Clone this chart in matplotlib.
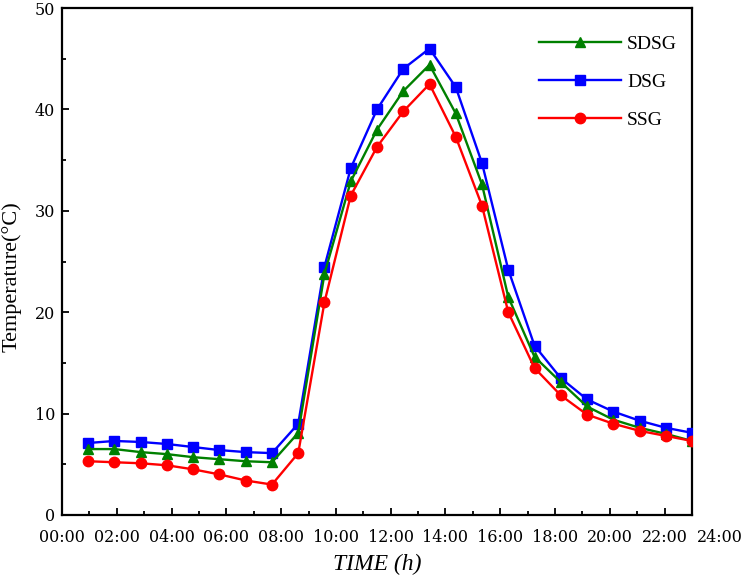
import numpy as np
import matplotlib
matplotlib.use("Agg")
import matplotlib.pyplot as plt
from matplotlib.ticker import MultipleLocator, FixedLocator
import matplotlib.transforms as mtransforms

# sample index (24 hourly samples)
sample = np.arange(1, 25)
sdsg = [6.5, 6.5, 6.2, 6.0, 5.7, 5.5, 5.3, 5.2, 8.1, 23.8, 32.9, 38.0, 41.8, 44.4,
        39.6, 32.6, 21.5, 15.6, 13.1, 10.7, 9.4, 8.6, 8.0, 7.3]
dsg = [7.1, 7.3, 7.2, 7.0, 6.7, 6.4, 6.2, 6.1, 9.0, 24.5, 34.2, 40.0, 44.0, 46.0,
       42.2, 34.7, 24.2, 16.7, 13.5, 11.4, 10.2, 9.3, 8.6, 8.1]
ssg = [5.3, 5.2, 5.1, 4.9, 4.5, 4.0, 3.4, 3.0, 6.1, 21.0, 31.5, 36.3, 39.8, 42.5,
       37.3, 30.5, 20.0, 14.5, 11.8, 9.9, 9.0, 8.3, 7.8, 7.3]
hour_labels = ["00:00", "02:00", "04:00", "06:00", "08:00", "10:00", "12:00",
               "14:00", "16:00", "18:00", "20:00", "22:00", "24:00"]
hours = np.arange(0, 25, 2)

fig = plt.figure(figsize=(7.43, 5.86), dpi=100)
ax = fig.add_axes([0.0834, 0.1212, 0.9314 - 0.0834, 0.9863 - 0.1212])

lw = 1.7
ax.plot(sample, dsg, color="#0000FF", marker="s", markersize=6.5, lw=lw, label="DSG", zorder=3)
ax.plot(sample, sdsg, color="#008000", marker="^", markersize=7, lw=lw, label="SDSG", zorder=4)
ax.plot(sample, ssg, color="#FF0000", marker="o", markersize=7.5, lw=lw, label="SSG", zorder=5)

scale = 24 / 23
ax.set_xlim(0, 24)
ax.set_ylim(0, 50)
pos = hours * scale
ax.xaxis.set_major_locator(FixedLocator(pos[:-1]))
ax.set_xticklabels(hour_labels[:-1])
ax.xaxis.set_minor_locator(FixedLocator((hours[:-1] + 1) * scale))
ax.yaxis.set_major_locator(MultipleLocator(10))
ax.yaxis.set_minor_locator(MultipleLocator(5))

fs_tick = 11.5
for lab in ax.get_xticklabels() + ax.get_yticklabels():
    lab.set_fontfamily("DejaVu Serif")
    lab.set_fontsize(fs_tick)
trans = mtransforms.blended_transform_factory(ax.transData, ax.transAxes)
ax.text(pos[-1], 0.0, hour_labels[-1], ha="center", va="top",
        fontfamily="DejaVu Serif", fontsize=fs_tick, clip_on=False,
        transform=trans + mtransforms.ScaledTranslation(0, -10 / 72, fig.dpi_scale_trans))

ax.tick_params(which="both", direction="in", width=1.3, top=False, right=False)
ax.tick_params(which="major", length=5, pad=10)
ax.tick_params(axis="y", which="major", pad=5)
ax.tick_params(which="minor", length=3)
for s in ax.spines.values():
    s.set_linewidth(1.6)

ax.set_ylabel("Temperature(°C)", fontfamily="Liberation Serif", fontsize=16)
ax.yaxis.set_label_coords(-0.064, 0.47)
ax.set_xlabel("TIME (h)", fontfamily="Liberation Serif", fontstyle="italic", fontsize=17, labelpad=6)

handles, labels = ax.get_legend_handles_labels()
order = [1, 0, 2]
ax.legend([handles[i] for i in order], [labels[i] for i in order], loc="upper right",
          frameon=False, prop=dict(family="Liberation Serif", size=14),
          handlelength=4.2, handletextpad=0.3, labelspacing=1.05, borderaxespad=0.6,
          bbox_to_anchor=(1.007, 0.985))

fig.savefig("out.png", dpi=100)
